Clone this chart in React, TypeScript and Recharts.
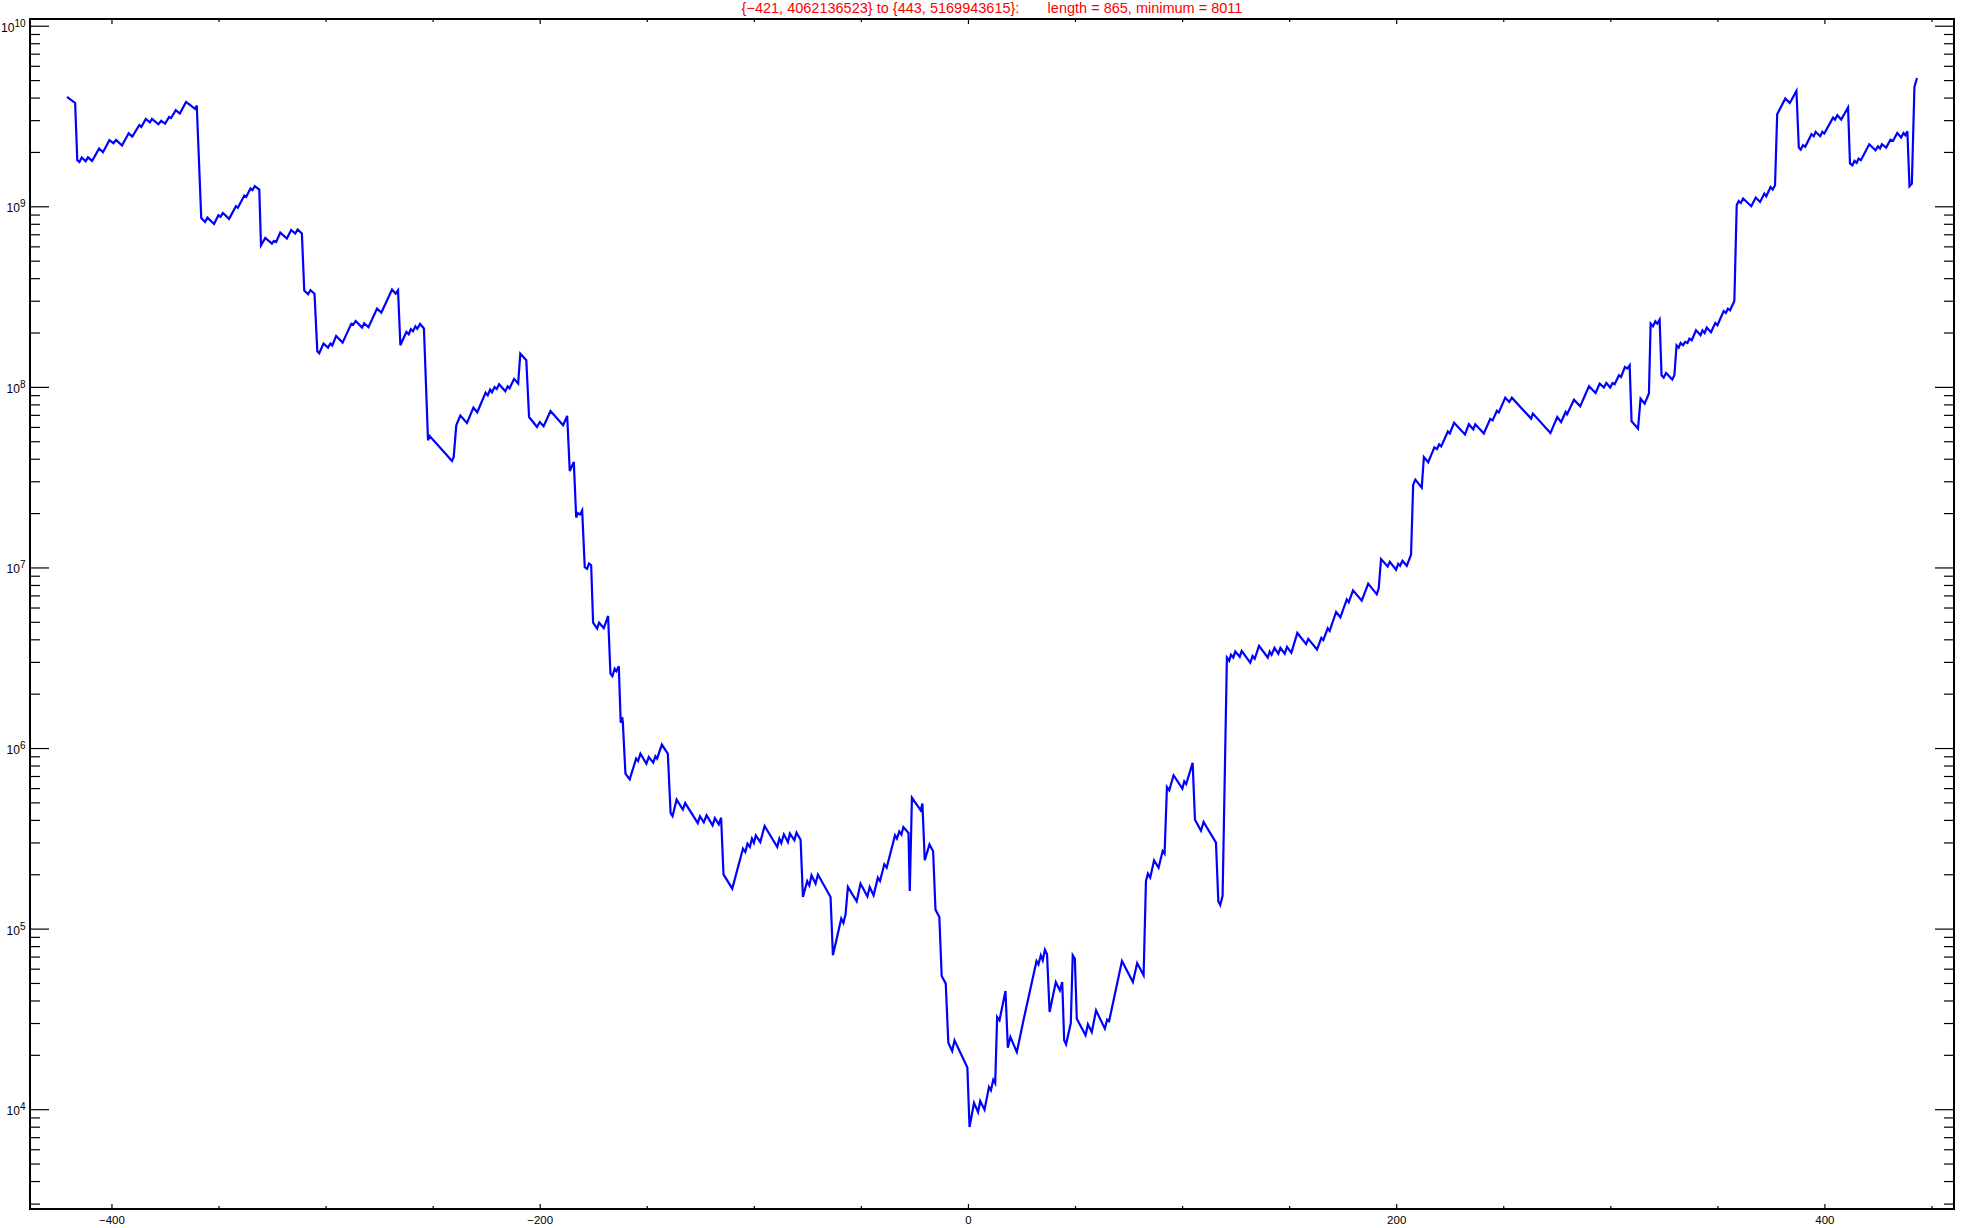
import React from 'react';
import { LineChart, Line, XAxis, YAxis } from 'recharts';

// Points: [x, log10(value)], region by region (y axis is logarithmic)
const fallFromLeftTop: [number, number][] = [
  [-421, 9.609], [-417.2, 9.575], [-416.2, 9.258], [-415.2, 9.248], [-414.1, 9.273], [-412.3, 9.252],
  [-411.2, 9.274], [-409.3, 9.254], [-406.0, 9.323], [-404.2, 9.302], [-401.2, 9.369], [-399.3, 9.352],
  [-398.1, 9.370], [-395.3, 9.339], [-392.2, 9.407], [-390.5, 9.389], [-387.2, 9.453], [-386.3, 9.442],
  [-384.2, 9.487], [-382.3, 9.468], [-381.3, 9.487], [-378.3, 9.457], [-377.0, 9.476], [-375.2, 9.461],
  [-373.3, 9.498], [-372.4, 9.492], [-370.2, 9.535], [-368.3, 9.516], [-365.4, 9.581], [-361.2, 9.542],
  [-360.4, 9.561], [-358.3, 8.938], [-356.5, 8.916], [-355.4, 8.940], [-352.3, 8.905], [-350.3, 8.953],
  [-349.3, 8.944], [-348.2, 8.966], [-345.3, 8.933], [-342.1, 9.003], [-341.2, 8.994], [-338.2, 9.062],
  [-337.3, 9.055], [-335.3, 9.101], [-334.4, 9.092], [-333.3, 9.114], [-331.2, 9.095], [-330.4, 8.787],
  [-328.4, 8.828], [-325.3, 8.796], [-324.4, 8.811], [-323.3, 8.805], [-321.4, 8.857], [-318.3, 8.824],
  [-316.3, 8.872], [-314.4, 8.852], [-313.3, 8.874], [-311.3, 8.852], [-310.2, 8.536], [-308.4, 8.516],
  [-307.3, 8.538], [-305.4, 8.519], [-304.1, 8.200], [-303.2, 8.189], [-301.2, 8.243], [-299.1, 8.220],
  [-298.0, 8.243], [-297.1, 8.232], [-295.3, 8.285], [-292.3, 8.248], [-288.2, 8.353], [-287.3, 8.348],
  [-286.2, 8.368], [-283.2, 8.331], [-282.2, 8.355], [-280.2, 8.333], [-276.2, 8.436], [-274.2, 8.414],
];

const steepDescent: [number, number][] = [
  [-269.2, 8.542], [-267.5, 8.519], [-266.4, 8.538], [-265.3, 8.233], [-262.5, 8.307], [-261.4, 8.294],
  [-260.4, 8.322], [-259.4, 8.311], [-258.3, 8.338], [-257.4, 8.324], [-256.1, 8.351], [-254.3, 8.326],
  [-252.4, 7.707], [-251.6, 7.731], [-241.2, 7.592], [-240.4, 7.615], [-239.2, 7.790], [-237.3, 7.844],
  [-234.2, 7.803], [-231.2, 7.888], [-229.4, 7.862], [-225.5, 7.971], [-224.5, 7.956], [-223.4, 7.988],
  [-222.5, 7.973], [-221.3, 8.002], [-220.3, 7.991], [-219.2, 8.017], [-216.3, 7.978], [-215.2, 8.006],
  [-214.3, 7.995], [-212.2, 8.047], [-210.3, 8.021], [-209.3, 8.187], [-206.5, 8.150], [-205.2, 7.836],
  [-201.5, 7.781], [-200.2, 7.808], [-198.4, 7.785], [-195.2, 7.869], [-189.3, 7.790], [-187.4, 7.842],
  [-186.2, 7.537], [-184.3, 7.587], [-183.2, 7.279], [-182.5, 7.304], [-181.4, 7.296], [-180.4, 7.319],
  [-179.2, 7.005], [-178.1, 6.996], [-177.2, 7.024], [-176.2, 7.015], [-175.3, 6.697], [-173.4, 6.664],
  [-172.5, 6.697], [-170.3, 6.667], [-168.3, 6.734], [-167.2, 6.415], [-166.3, 6.401], [-165.2, 6.442],
  [-164.4, 6.429], [-163.3, 6.455], [-162.4, 6.143], [-161.7, 6.174], [-161.4, 6.143], [-160.2, 5.861],
  [-158.2, 5.829], [-155.2, 5.944], [-154.3, 5.931], [-153.2, 5.972],
];

const lowShelf: [number, number][] = [
  [-150.4, 5.916], [-149.3, 5.953], [-147.2, 5.922], [-146.2, 5.957], [-145.4, 5.944], [-143.2, 6.022],
  [-140.4, 5.972], [-139.1, 5.643], [-138.2, 5.625], [-136.3, 5.717], [-133.4, 5.662], [-132.3, 5.698],
  [-126.4, 5.587], [-125.4, 5.625], [-123.6, 5.591], [-122.3, 5.630], [-119.5, 5.575], [-118.4, 5.615],
  [-116.6, 5.580], [-115.5, 5.617], [-114.4, 5.303], [-110.3, 5.224], [-105.3, 5.446], [-104.2, 5.427],
  [-103.2, 5.473], [-102.1, 5.455], [-101.1, 5.501], [-100.2, 5.477], [-99.3, 5.519], [-97.2, 5.482],
  [-95.2, 5.571], [-89.3, 5.455], [-88.3, 5.501], [-87.4, 5.477], [-86.2, 5.525], [-84.3, 5.482],
  [-83.4, 5.529], [-81.3, 5.492], [-80.3, 5.534], [-78.4, 5.495], [-77.3, 5.178], [-75.3, 5.266],
  [-74.3, 5.242], [-73.3, 5.298], [-71.4, 5.252], [-70.3, 5.302], [-64.4, 5.178], [-63.3, 4.855],
  [-59.4, 5.058], [-58.4, 5.034], [-57.4, 5.082], [-56.3, 5.233], [-52.2, 5.154], [-50.4, 5.252],
  [-47.2, 5.181], [-46.1, 5.233], [-44.3, 5.187], [-42.3, 5.285], [-41.3, 5.266], [-39.3, 5.359],
  [-38.2, 5.340],
];

const valleyFloor: [number, number][] = [
  [-34.3, 5.519], [-33.4, 5.501], [-32.3, 5.541], [-31.3, 5.523], [-30.4, 5.565], [-28.0, 5.532],
  [-27.4, 5.211], [-26.4, 5.728], [-22.3, 5.658], [-21.5, 5.695], [-20.4, 5.381], [-18.2, 5.469],
  [-16.5, 5.431], [-15.4, 5.108], [-13.6, 5.067], [-12.5, 4.740], [-10.6, 4.698], [-9.4, 4.371],
  [-7.6, 4.325], [-6.5, 4.384], [-0.5, 4.233], [0.5, 3.904], [2.6, 4.037], [4.5, 3.987],
  [5.5, 4.048], [7.5, 4.000], [9.6, 4.125], [10.5, 4.107], [11.6, 4.166], [12.5, 4.147],
  [13.4, 4.513], [14.5, 4.495], [17.3, 4.657], [18.4, 4.343], [19.6, 4.402], [22.6, 4.319],
  [25.7, 4.495], [31.8, 4.823], [32.7, 4.805], [33.8, 4.855], [34.7, 4.827], [35.7, 4.886],
  [36.7, 4.860], [37.9, 4.541], [40.8, 4.707], [42.7, 4.661], [43.8, 4.707], [44.7, 4.384],
  [45.6, 4.362], [47.8, 4.480], [48.7, 4.855], [49.7, 4.836], [50.6, 4.504], [54.7, 4.412],
  [55.8, 4.473], [57.6, 4.430], [59.6, 4.550], [63.7, 4.449], [64.8, 4.499], [65.7, 4.491],
  [71.7, 4.823], [76.8, 4.707], [78.8, 4.812], [81.8, 4.744], [82.9, 5.266], [83.8, 5.307],
  [84.9, 5.285], [86.7, 5.381], [88.8, 5.340], [90.7, 5.432], [91.6, 5.418], [92.7, 5.787],
  [93.8, 5.769], [95.8, 5.852], [99.9, 5.778],
];

const climb: [number, number][] = [
  [100.8, 5.818], [101.7, 5.803], [104.7, 5.921], [105.8, 5.606], [108.6, 5.545], [109.8, 5.593],
  [115.6, 5.479], [116.7, 5.155], [117.6, 5.133], [118.7, 5.184], [120.7, 6.504], [121.8, 6.486],
  [122.6, 6.519], [123.7, 6.504], [124.6, 6.537], [126.7, 6.508], [127.6, 6.541], [131.6, 6.475],
  [132.7, 6.512], [133.7, 6.497], [135.7, 6.569], [139.8, 6.504], [140.7, 6.537], [141.6, 6.519],
  [142.9, 6.557], [144.7, 6.525], [145.7, 6.558], [147.7, 6.525], [148.8, 6.563], [150.8, 6.530],
  [153.6, 6.640], [157.7, 6.578], [158.7, 6.607], [162.8, 6.548], [164.8, 6.613], [165.7, 6.600],
  [167.8, 6.666], [168.7, 6.651], [171.7, 6.756], [173.7, 6.727], [176.7, 6.826], [177.6, 6.810],
  [179.6, 6.876], [183.7, 6.819], [186.7, 6.913], [190.7, 6.854], [191.6, 6.887], [192.7, 7.049],
  [195.8, 7.008], [196.8, 7.034], [199.7, 6.990], [200.7, 7.023], [201.6, 7.012], [202.7, 7.040],
  [204.7, 7.012], [206.7, 7.073], [207.7, 7.460], [208.7, 7.489], [211.7, 7.445], [212.7, 7.614],
  [214.7, 7.585], [217.6, 7.668], [218.8, 7.658], [219.8, 7.684], [220.8, 7.673], [223.9, 7.756],
  [224.8, 7.745], [226.8, 7.804], [231.9, 7.739], [233.7, 7.796], [235.8, 7.767], [236.7, 7.796],
  [240.7, 7.745], [243.7, 7.826], [244.8, 7.817], [246.8, 7.870], [247.7, 7.861],
];

const riseToRightTop: [number, number][] = [
  [250.7, 7.943], [252.6, 7.919], [253.8, 7.943], [262.8, 7.827], [263.6, 7.855], [271.8, 7.747],
  [275.0, 7.836], [276.8, 7.808], [278.9, 7.864], [279.6, 7.851], [282.8, 7.932], [285.7, 7.895],
  [289.8, 8.006], [292.9, 7.969], [294.8, 8.021], [296.8, 7.999], [297.9, 8.024], [299.7, 7.999],
  [300.8, 8.024], [301.8, 8.017], [303.8, 8.067], [304.8, 8.058], [306.6, 8.113], [307.7, 8.104],
  [308.8, 8.122], [309.7, 7.812], [312.7, 7.772], [313.9, 7.938], [315.8, 7.910], [317.8, 7.966],
  [318.6, 8.353], [319.7, 8.338], [320.8, 8.366], [321.7, 8.353], [322.8, 8.375], [323.7, 8.067],
  [324.7, 8.054], [325.8, 8.080], [328.7, 8.043], [329.7, 8.067], [330.7, 8.233], [331.7, 8.220],
  [332.6, 8.246], [333.7, 8.233], [334.7, 8.252], [335.8, 8.246], [336.7, 8.270], [337.8, 8.261],
  [339.8, 8.316], [341.9, 8.289], [342.8, 8.316], [343.8, 8.301], [344.8, 8.331], [346.8, 8.305],
  [348.8, 8.357], [349.8, 8.344], [352.7, 8.423], [353.7, 8.412], [354.7, 8.436], [355.7, 8.427],
  [357.7, 8.479], [358.8, 9.009], [359.7, 9.032], [360.7, 9.021], [361.8, 9.046], [365.6, 9.003],
  [367.7, 9.051], [369.7, 9.027], [371.7, 9.073], [372.6, 9.058], [374.6, 9.110], [375.6, 9.096],
  [376.7, 9.119], [377.7, 9.513], [381.5, 9.600], [383.6, 9.575], [386.7, 9.642], [387.8, 9.328],
  [388.7, 9.317], [389.8, 9.341], [390.8, 9.332], [393.7, 9.402], [394.8, 9.391], [395.7, 9.415],
  [397.8, 9.391], [398.8, 9.415], [399.7, 9.406], [403.8, 9.494], [404.7, 9.483], [405.8, 9.507],
  [407.6, 9.483], [410.8, 9.550], [411.7, 9.240], [412.8, 9.230], [413.8, 9.254], [414.8, 9.243],
  [415.7, 9.267], [416.8, 9.258], [420.7, 9.346], [423.6, 9.313], [424.8, 9.335], [425.7, 9.323],
  [426.6, 9.346], [428.6, 9.328], [430.6, 9.372], [431.8, 9.365], [433.8, 9.409], [435.6, 9.384],
  [436.7, 9.409], [437.6, 9.396], [438.5, 9.418], [439.5, 9.114], [440.6, 9.129], [441.8, 9.664],
  [443, 9.7135],
];

const SEGMENTS = [fallFromLeftTop, steepDescent, lowShelf, valleyFloor, climb, riseToRightTop];

const TITLE = '{\u2212421, 4062136523} to {443, 5169943615}:       length = 865, minimum = 8011';

const X_DOMAIN: [number, number] = [-438.28, 460.28];
const X_TICKS = [-400, -350, -300, -250, -200, -150, -100, -50, 0, 50, 100, 150, 200, 250, 300, 350, 400, 450];
const X_LABELED = [-400, -200, 0, 200, 400];

const Y_DOMAIN_EXP: [number, number] = [3.45, 10.04];
const Y_DECADES = [3, 4, 5, 6, 7, 8, 9, 10];
const Y_LABELED_EXP = [4, 5, 6, 7, 8, 9, 10];

const data = SEGMENTS.flat().map(([x, e]) => ({ x, y: Math.pow(10, e) }));

const yDomain: [number, number] = [Math.pow(10, Y_DOMAIN_EXP[0]), Math.pow(10, Y_DOMAIN_EXP[1])];
const yTicks: number[] = [];
Y_DECADES.forEach((d) => {
  for (let k = 1; k <= 9; k++) {
    const v = k * Math.pow(10, d);
    if (v >= yDomain[0] && v <= yDomain[1]) yTicks.push(v);
  }
});
const yMajor = new Set(Y_LABELED_EXP.map((e) => Math.pow(10, e)));
const yMajorExp = new Map(Y_LABELED_EXP.map((e) => [Math.pow(10, e), e]));
const xLabeled = new Set(X_LABELED);

const FONT = "'Liberation Sans', Arial, sans-serif";
const TICK_W = 1.2;

const fmtX = (v: number) => (v < 0 ? '\u2212' + Math.abs(v) : String(v));

const LeftTick = (props: any) => {
  const { x, y, payload } = props;
  const v = payload.value;
  const major = yMajor.has(v);
  return (
    <g>
      <line x1={x} y1={y} x2={x + (major ? 19 : 10)} y2={y} stroke="#000" strokeWidth={TICK_W} />
      {major && (
        <text x={x - 4.5} y={y + 5.5} textAnchor="end" fontFamily={FONT} fill="#000">
          <tspan fontSize={12}>10</tspan>
          <tspan fontSize={10} dy={-5}>{yMajorExp.get(v)}</tspan>
        </text>
      )}
    </g>
  );
};

const RightTick = (props: any) => {
  const { x, y, payload } = props;
  const major = yMajor.has(payload.value);
  return <line x1={x - (major ? 19 : 10)} y1={y} x2={x} y2={y} stroke="#000" strokeWidth={TICK_W} />;
};

const BottomTick = (props: any) => {
  const { x, y, payload } = props;
  const v = payload.value;
  const major = xLabeled.has(v);
  return (
    <g>
      <line x1={x} y1={y} x2={x} y2={y - (major ? 5 : 3)} stroke="#000" strokeWidth={TICK_W} />
      {major && (
        <text x={x} y={y + 15} textAnchor="middle" fontFamily={FONT} fontSize={11.5} fill="#000">
          {fmtX(v)}
        </text>
      )}
    </g>
  );
};

const TopTick = (props: any) => {
  const { x, y, payload } = props;
  const major = xLabeled.has(payload.value);
  return <line x1={x} y1={y} x2={x} y2={y + (major ? 5 : 3)} stroke="#000" strokeWidth={TICK_W} />;
};

const AXIS_LINE = { stroke: '#000', strokeWidth: 2, strokeLinecap: 'square' as const };

export default function App() {
  return (
    <div style={{ position: 'absolute', left: 0, top: 0, width: 1961, height: 1228, background: '#fff' }}>
      <div
        style={{
          position: 'absolute',
          left: 30,
          top: 0,
          width: 1924,
          textAlign: 'center',
          fontFamily: FONT,
          fontSize: 14.5,
          lineHeight: '16px',
          color: '#ff0000',
          whiteSpace: 'pre',
        }}
      >
        {TITLE}
      </div>
      <LineChart width={1961} height={1228} data={data} margin={{ top: 18, right: 6, bottom: 18, left: 29 }}>
        <XAxis
          xAxisId="bottom"
          dataKey="x"
          type="number"
          domain={X_DOMAIN}
          allowDataOverflow
          ticks={X_TICKS}
          interval={0}
          height={1}
          tickSize={0}
          tickMargin={0}
          tickLine={false}
          axisLine={AXIS_LINE}
          tick={<BottomTick />}
        />
        <XAxis
          xAxisId="top"
          orientation="top"
          dataKey="x"
          type="number"
          domain={X_DOMAIN}
          allowDataOverflow
          ticks={X_TICKS}
          interval={0}
          height={1}
          tickSize={0}
          tickMargin={0}
          tickLine={false}
          axisLine={AXIS_LINE}
          tick={<TopTick />}
        />
        <YAxis
          yAxisId="left"
          type="number"
          scale="log"
          domain={yDomain}
          allowDataOverflow
          ticks={yTicks}
          interval={0}
          width={1}
          tickSize={0}
          tickMargin={0}
          tickLine={false}
          axisLine={AXIS_LINE}
          tick={<LeftTick />}
        />
        <YAxis
          yAxisId="right"
          orientation="right"
          type="number"
          scale="log"
          domain={yDomain}
          allowDataOverflow
          ticks={yTicks}
          interval={0}
          width={1}
          tickSize={0}
          tickMargin={0}
          tickLine={false}
          axisLine={AXIS_LINE}
          tick={<RightTick />}
        />
        <Line
          xAxisId="bottom"
          yAxisId="left"
          type="linear"
          dataKey="y"
          stroke="#0000ff"
          strokeWidth={2.2}
          dot={false}
          activeDot={false}
          isAnimationActive={false}
        />
        <Line
          xAxisId="top"
          yAxisId="right"
          type="linear"
          dataKey="y"
          stroke="none"
          dot={false}
          activeDot={false}
          isAnimationActive={false}
        />
      </LineChart>
    </div>
  );
}
